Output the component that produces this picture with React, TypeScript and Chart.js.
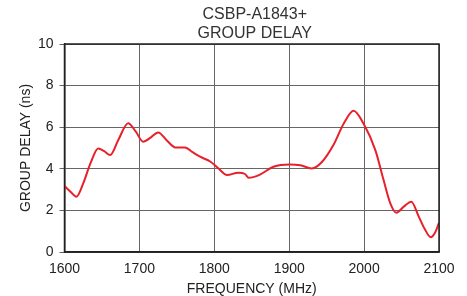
import React, { useEffect, useRef } from "react";
import { Chart, registerables } from "chart.js";

Chart.register(...registerables);

const titleLines = ["CSBP-A1843+", "GROUP DELAY"];
const xTitle = "FREQUENCY (MHz)";
const yTitle = "GROUP DELAY (ns)";

const frequencies = [
  1600, 1608, 1616, 1625, 1635, 1645, 1653, 1661, 1672, 1685, 1695, 1705, 1715,
  1725, 1737, 1748, 1761, 1771, 1781, 1795, 1806, 1817, 1832, 1841, 1846, 1852,
  1861, 1879, 1901, 1915, 1930, 1944, 1959, 1973, 1986, 1999, 2015, 2026, 2035,
  2043, 2053, 2063, 2073, 2081, 2089, 2095, 2100,
];
const groupDelay = [
  3.17, 2.9, 2.66, 3.3, 4.3, 4.98, 4.85, 4.66, 5.4, 6.19, 5.8, 5.3, 5.5, 5.75,
  5.35, 5.03, 5.03, 4.8, 4.58, 4.34, 4.0, 3.7, 3.81, 3.75, 3.57, 3.6, 3.72, 4.1,
  4.21, 4.17, 4.02, 4.34, 5.14, 6.19, 6.79, 6.19, 4.9, 3.46, 2.34, 1.89, 2.18,
  2.42, 1.7, 1.1, 0.71, 0.95, 1.41,
];

const FONT = "'Liberation Sans', Arial, sans-serif";

const frameBox = {
  id: "frameBox",
  afterDatasetsDraw(chart: any) {
    const { ctx, chartArea } = chart;
    ctx.save();
    ctx.strokeStyle = "#222";
    ctx.lineWidth = 1.5;
    ctx.strokeRect(chartArea.left, chartArea.top, chartArea.right - chartArea.left, chartArea.bottom - chartArea.top);
    ctx.restore();
  },
};

const centeredTitle = {
  id: "centeredTitle",
  afterDraw(chart: any) {
    const { ctx, chartArea } = chart;
    ctx.save();
    ctx.fillStyle = "#333";
    ctx.font = `16px ${FONT}`;
    ctx.textAlign = "center";
    ctx.textBaseline = "middle";
    const cx = (chartArea.left + chartArea.right) / 2 + 3;
    titleLines.forEach((line, i) => {
      ctx.fillText(line, cx, 15 + i * 19);
    });
    ctx.restore();
  },
};

export default function App() {
  const ref = useRef<HTMLCanvasElement>(null);
  useEffect(() => {
    if (!ref.current) return;
    const chart = new Chart(ref.current, {
      type: "line",
      data: {
        datasets: [
          {
            data: frequencies.map((f, i) => ({ x: f, y: groupDelay[i] })),
            borderColor: "#e8202a",
            borderWidth: 2,
            pointRadius: 0,
            cubicInterpolationMode: "monotone",
            fill: false,
          },
        ],
      },
      options: {
        responsive: false,
        animation: false,
        layout: { padding: { left: 0, right: 28, top: 44, bottom: 0 } },
        plugins: {
          legend: { display: false },
          tooltip: { enabled: false },
          title: { display: false },
        },
        scales: {
          x: {
            type: "linear",
            min: 1600,
            max: 2100,
            ticks: {
              stepSize: 100,
              color: "#222",
              font: { family: FONT, size: 14 },
              padding: 9,
              maxRotation: 0,
              callback: (v: any) => String(v),
            },
            grid: { color: "#666", lineWidth: 1, drawTicks: false },
            border: { color: "#222", width: 1.5 },
            title: {
              display: true,
              text: xTitle,
              color: "#222",
              font: { family: FONT, size: 14, lineHeight: 1 },
              padding: 0,
            },
            afterFit: (s: any) => {
              s.height = 44;
            },
          },
          y: {
            min: 0,
            max: 10,
            ticks: { stepSize: 2, color: "#222", font: { family: FONT, size: 14 }, padding: 6 },
            grid: { color: "#666", lineWidth: 1, tickLength: 5 },
            border: { color: "#222", width: 1.5 },
            title: {
              display: true,
              text: yTitle,
              color: "#222",
              font: { family: FONT, size: 14, lineHeight: 1 },
              padding: { top: 19, bottom: 0 },
            },
            afterFit: (s: any) => {
              s.width = 64.5;
            },
          },
        },
      },
      plugins: [frameBox, centeredTitle],
    });
    return () => chart.destroy();
  }, []);
  return (
    <div style={{ position: "absolute", left: 0, top: 0, width: 467, height: 296, background: "#fff" }}>
      <canvas ref={ref} width={467} height={296} style={{ width: 467, height: 296, display: "block" }} />
    </div>
  );
}
